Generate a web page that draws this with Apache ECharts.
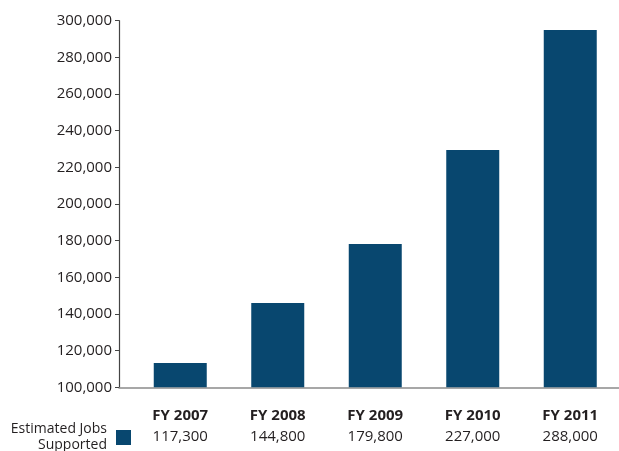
<!DOCTYPE html>
<html>
<head>
<meta charset="utf-8">
<script src="https://cdn.jsdelivr.net/npm/echarts@6/dist/echarts.min.js"></script>
<style>html,body{margin:0;padding:0;background:#fff}#c{width:619px;height:451px}</style>
</head>
<body>
<div id="c"></div>
<script>
const categories = ['FY 2007', 'FY 2008', 'FY 2009', 'FY 2010', 'FY 2011'];
const tableValues = ['117,300', '144,800', '179,800', '227,000', '288,000'];
const barValues = [113300, 146000, 178200, 229500, 294900];
const seriesName = 'Estimated Jobs\nSupported';
const yMin = 100000, yMax = 300000, yStep = 20000;

const FONT = '"Open Sans", sans-serif';
const TXT = '#231f20';
const chart = echarts.init(document.getElementById('c'), null, {renderer: 'canvas'});
chart.setOption({
  animation: false,
  textStyle: {fontFamily: FONT},
  legend: {
    data: [seriesName],
    right: 488, top: 421.5, padding: 0,
    align: 'right',
    itemWidth: 15, itemHeight: 15,
    icon: 'rect',
    selectedMode: false,
    textStyle: {fontFamily: FONT, fontSize: 14, color: TXT, lineHeight: 16, align: 'right', padding: [0, 4, 0, 0]}
  },
  grid: [
    {left: 131.5, width: 491, top: 20.7, height: 366.6},
    {left: 119, right: 0, top: 20.7, height: 366.6}
  ],
  xAxis: [
    {
      type: 'category', gridIndex: 0, data: categories,
      axisLine: {show: false}, axisTick: {show: false},
      axisLabel: {
        margin: 18, interval: 0,
        formatter: (v, i) => '{b|' + v + '}\n{v|' + tableValues[i] + '}',
        rich: {
          b: {fontFamily: FONT, fontSize: 15, fontWeight: 'bold', color: TXT, lineHeight: 21},
          v: {fontFamily: FONT, fontSize: 15, color: TXT, lineHeight: 21}
        }
      }
    },
    {
      type: 'value', gridIndex: 1, min: 0, max: 1,
      axisLine: {show: true, lineStyle: {color: '#8a8a8a', width: 1.5}},
      axisTick: {show: false}, axisLabel: {show: false}, splitLine: {show: false}
    }
  ],
  yAxis: [
    {
      type: 'value', gridIndex: 0, min: yMin, max: yMax, interval: yStep, offset: 12.5,
      axisLine: {show: true, lineStyle: {color: '#444', width: 1.2}},
      axisTick: {show: true, length: 4, lineStyle: {color: '#444'}},
      splitLine: {show: false},
      axisLabel: {
        margin: 7, fontFamily: FONT, fontSize: 15, color: TXT,
        formatter: v => v.toLocaleString('en-US')
      }
    },
    {type: 'value', gridIndex: 1, show: false}
  ],
  series: [{
    name: seriesName, type: 'bar', xAxisIndex: 0, yAxisIndex: 0,
    data: barValues, barWidth: 53,
    itemStyle: {color: '#08476f'}
  }]
});
</script>
</body>
</html>
